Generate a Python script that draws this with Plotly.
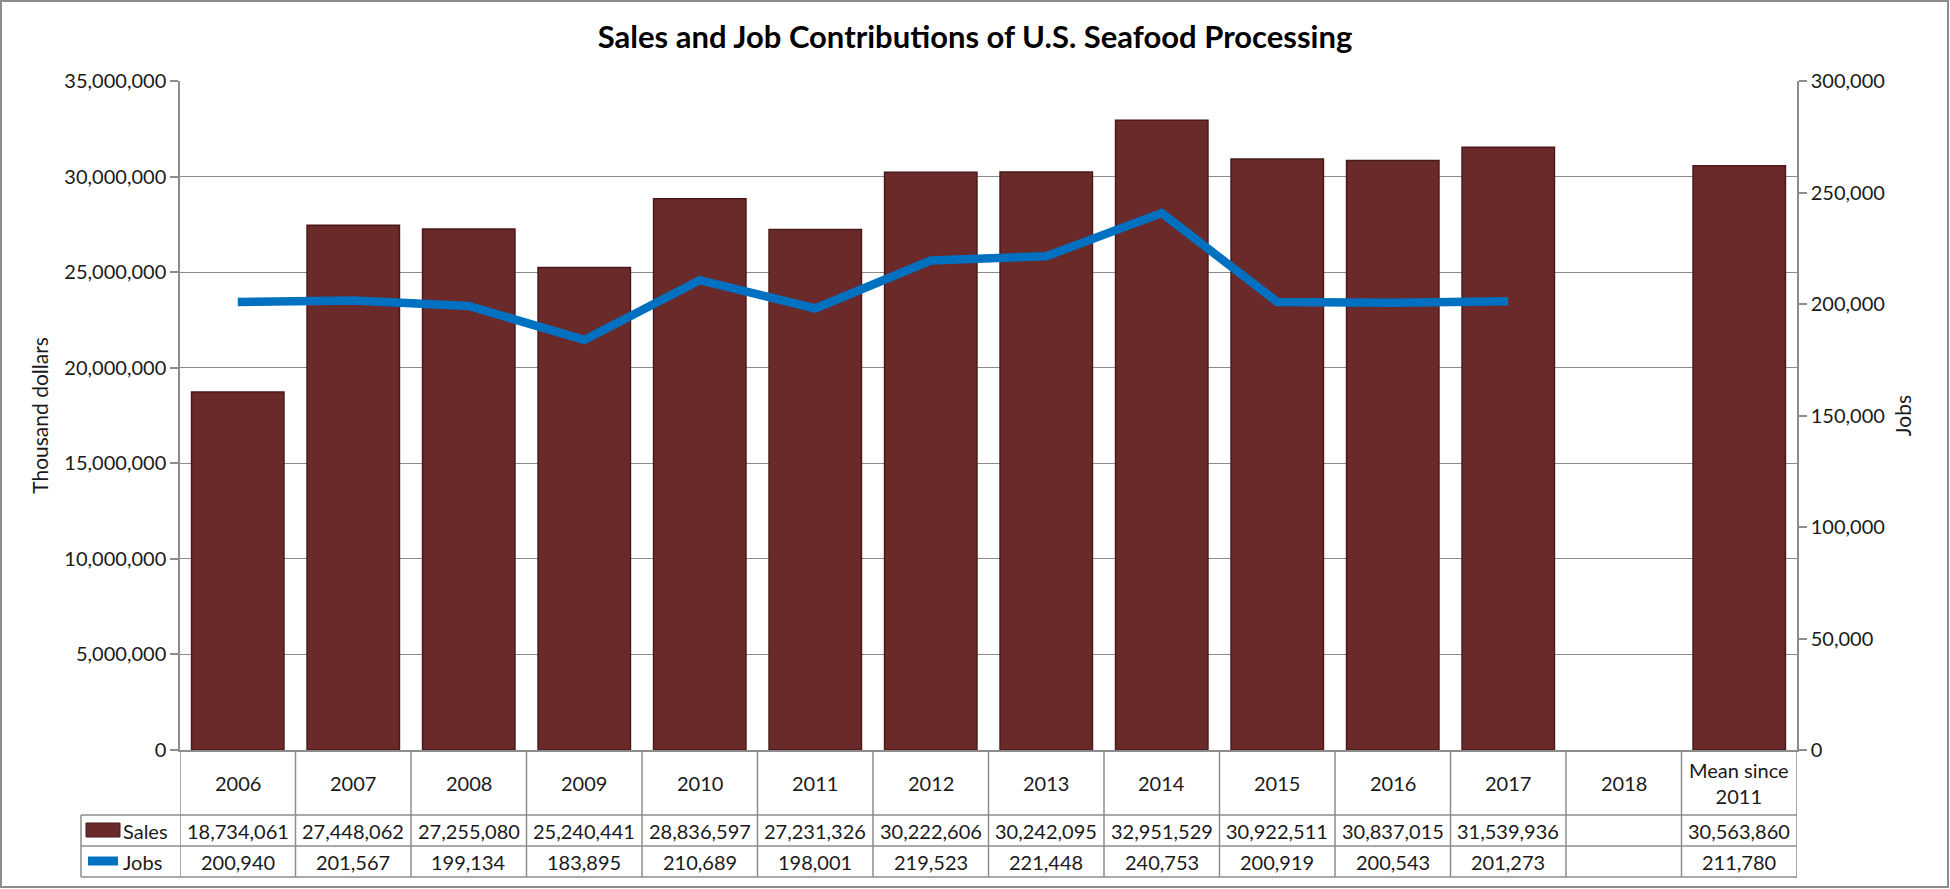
import plotly.graph_objects as go

categories = ["2006", "2007", "2008", "2009", "2010", "2011", "2012", "2013",
              "2014", "2015", "2016", "2017", "2018", "Mean since 2011"]
cat_labels = ["2006", "2007", "2008", "2009", "2010", "2011", "2012", "2013",
              "2014", "2015", "2016", "2017", "2018", "Mean since<br>2011"]
sales = [18734061, 27448062, 27255080, 25240441, 28836597, 27231326, 30222606,
         30242095, 32951529, 30922511, 30837015, 31539936, None, 30563860]
jobs = [200940, 201567, 199134, 183895, 210689, 198001, 219523, 221448,
        240753, 200919, 200543, 201273, None, 211780]

W, H = 1950, 889
L, R, T, B = 180, 1797, 81, 750   # plot area in pixels
PW, PH = R - L, B - T

def px(x):
    return (x - L) / PW

def py(y):
    return (B - y) / PH

FONT = "Lato"
GRAY = "#8c8c8c"
TXT = "#1a1a1a"
BAR = "#6a2a2a"
BAR_EDGE = "#4a1818"
BLUE = "#0070c0"

fig = go.Figure()
fig.add_trace(go.Bar(x=categories, y=sales, name="Sales",
                     marker=dict(color=BAR, line=dict(color=BAR_EDGE, width=1.5)),
                     yaxis="y"))
# line runs through the annual values only (2006-2017)
line_x = [c for c, v in zip(categories, jobs) if v is not None and c != "Mean since 2011"]
line_y = [v for c, v in zip(categories, jobs) if v is not None and c != "Mean since 2011"]
fig.add_trace(go.Scatter(x=line_x, y=line_y, name="Jobs", mode="lines",
                         line=dict(color=BLUE, width=8.5), yaxis="y2"))

shapes = []
annotations = []

row_tops = [B, 815, 846, 877]
# horizontal table lines
for yy in row_tops[1:]:
    shapes.append(dict(type="line", xref="paper", yref="paper",
                       x0=px(81), x1=1, y0=py(yy), y1=py(yy),
                       line=dict(color=GRAY, width=1.5)))
# vertical table lines at category boundaries
for i in range(len(categories) + 1):
    shapes.append(dict(type="line", xref="x", yref="paper",
                       x0=i - 0.5, x1=i - 0.5, y0=0, y1=py(877),
                       line=dict(color=GRAY, width=1.5)))
# legend column left edge
shapes.append(dict(type="line", xref="paper", yref="paper",
                   x0=px(81), x1=px(81), y0=py(815), y1=py(877),
                   line=dict(color=GRAY, width=1.5)))
# legend keys
shapes.append(dict(type="rect", xref="paper", yref="paper",
                   x0=px(86), x1=px(120), y0=py(837), y1=py(823),
                   fillcolor=BAR, line=dict(color=BAR_EDGE, width=1)))
shapes.append(dict(type="line", xref="paper", yref="paper",
                   x0=px(88), x1=px(118), y0=py(861), y1=py(861),
                   line=dict(color=BLUE, width=9)))
# outer chart border
shapes.append(dict(type="rect", xref="paper", yref="paper",
                   x0=px(1), x1=px(W - 2), y0=py(1), y1=py(H - 2),
                   line=dict(color=GRAY, width=2), fillcolor="rgba(0,0,0,0)"))

mid_head = py((B + 815) / 2)
mid_sales = py((815 + 846) / 2)
mid_jobs = py((846 + 877) / 2)
tfont = dict(family=FONT, size=20, color=TXT)
for i, (lab, s, j) in enumerate(zip(cat_labels, sales, jobs)):
    annotations.append(dict(x=i, y=mid_head, xref="x", yref="paper", text=lab,
                            yanchor="middle", showarrow=False, font=tfont))
    if s is not None:
        annotations.append(dict(x=i, y=mid_sales, xref="x", yref="paper", text=f"{s:,}",
                                yanchor="middle", showarrow=False, font=tfont))
    if j is not None:
        annotations.append(dict(x=i, y=mid_jobs, xref="x", yref="paper", text=f"{j:,}",
                                yanchor="middle", showarrow=False, font=tfont))
annotations.append(dict(x=px(121), y=mid_sales, xref="paper", yref="paper", text="Sales",
                        xanchor="left", yanchor="middle", showarrow=False, font=tfont))
annotations.append(dict(x=px(121), y=mid_jobs, xref="paper", yref="paper", text="Jobs",
                        xanchor="left", yanchor="middle", showarrow=False, font=tfont))

fig.update_layout(
    width=W, height=H,
    margin=dict(l=L, r=W - R, t=T, b=H - B),
    paper_bgcolor="white", plot_bgcolor="white",
    showlegend=False,
    bargap=0.2,
    title=dict(text="<b>Sales and Job Contributions of U.S. Seafood Processing</b>",
               x=0.5, xanchor="center", y=1 - 37 / H, yanchor="middle",
               font=dict(family=FONT, size=31, color="#000000")),
    xaxis=dict(type="category", range=[-0.5, len(categories) - 0.5],
               showticklabels=False, showgrid=False, showline=True,
               linecolor=GRAY, linewidth=1.5, ticks=""),
    yaxis=dict(range=[0, 35000000], dtick=5000000, tickformat=",",
               showgrid=True, gridcolor=GRAY, gridwidth=1.2,
               showline=True, linecolor=GRAY, linewidth=1.5,
               ticks="outside", ticklen=8, tickcolor=GRAY, tickwidth=1.5,
               tickfont=dict(family=FONT, size=20, color=TXT),
               title=dict(text="Thousand dollars", standoff=10,
                          font=dict(family=FONT, size=21, color=TXT)),
               zeroline=False),
    yaxis2=dict(range=[0, 300000], dtick=50000, tickformat=",",
                overlaying="y", side="right", showgrid=False,
                showline=True, linecolor=GRAY, linewidth=1.5,
                ticks="outside", ticklen=8, tickcolor=GRAY, tickwidth=1.5,
                tickfont=dict(family=FONT, size=20, color=TXT),
                title=dict(text="Jobs", standoff=12,
                           font=dict(family=FONT, size=21, color=TXT)),
                zeroline=False),
    shapes=shapes,
    annotations=annotations,
)

fig.write_html("out.html", config={"displayModeBar": False},
               post_script="document.body.style.margin='0';")
